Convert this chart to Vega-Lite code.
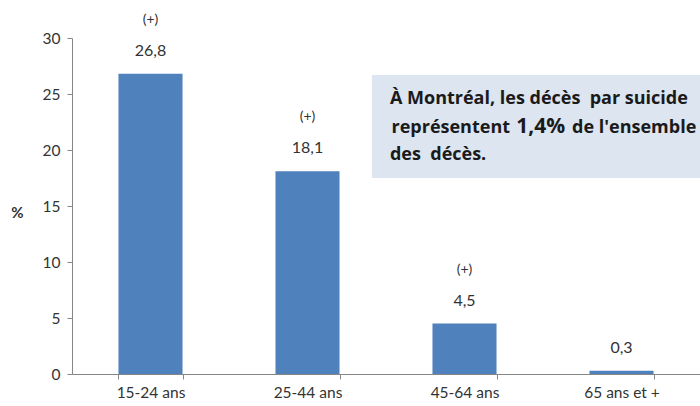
{
  "$schema": "https://vega.github.io/schema/vega-lite/v6.json",
  "autosize": {"type": "none"},
  "padding": {"left": 72, "top": 38, "right": 0, "bottom": 32},
  "width": 628,
  "height": 336,
  "config": {
    "view": {"stroke": null},
    "font": "Lato",
    "locale": {"number": {"decimal": ",", "thousands": " ", "grouping": [3], "currency": ["", " $"]}}
  },
  "layer": [
    {
      "data": {"values": [
        {"age": "15-24 ans", "pct": 26.8, "sig": "(+)"},
        {"age": "25-44 ans", "pct": 18.1, "sig": "(+)"},
        {"age": "45-64 ans", "pct": 4.5, "sig": "(+)"},
        {"age": "65 ans et +", "pct": 0.3, "sig": ""}
      ]},
      "encoding": {
        "x": {
          "field": "age", "type": "nominal", "sort": null,
          "scale": {"paddingInner": 0.592, "paddingOuter": 0.296},
          "axis": {
            "title": null, "labelAngle": 0, "labelFontSize": 15.5, "labelColor": "#333333",
            "labelPadding": 6, "tickBand": "extent", "tickSize": 5, "tickColor": "#868686",
            "domainColor": "#868686", "labelFont": "Lato"
          }
        },
        "y": {
          "field": "pct", "type": "quantitative",
          "scale": {"domain": [0, 30]},
          "axis": {
            "title": "%", "titleAngle": 0, "titleX": -55, "titleY": 174, "titleFontSize": 15,
            "titleFontWeight": "bold", "titleColor": "#333333", "titleAlign": "center", "titleBaseline": "middle",
            "values": [0, 5, 10, 15, 20, 25, 30], "grid": false,
            "labelFontSize": 15.5, "labelColor": "#333333", "labelPadding": 7,
            "tickSize": 5, "tickColor": "#868686", "domainColor": "#868686"
          }
        }
      },
      "layer": [
        {"mark": {"type": "bar", "color": "#4f81bd"}},
        {"mark": {"type": "text", "dy": -23, "fontSize": 16, "color": "#333333"},
         "encoding": {"text": {"field": "pct", "type": "quantitative", "format": ".1f"}}},
        {"mark": {"type": "text", "dy": -54, "fontSize": 14, "color": "#333333"},
         "encoding": {"text": {"field": "sig", "type": "nominal"}}}
      ]
    },
    {
      "data": {"values": [{"l1": "À Montréal, les décès\u00a0 par suicide", "a": "représentent", "b": "1,4%", "c": "de l'ensemble", "l3": "des\u00a0 décès."}]},
      "encoding": {
        "x": {"type": "quantitative", "scale": {"domain": [0, 4]}, "axis": null}
      },
      "layer": [
        {"mark": {"type": "rect", "color": "#dce5f0"},
         "encoding": {"x": {"datum": 1.91, "type": "quantitative", "scale": {"domain": [0, 4]}, "axis": null}, "x2": {"datum": 4.2}, "y": {"datum": 26.7, "type": "quantitative"}, "y2": {"datum": 17.5}}},
        {"mark": {"type": "text", "align": "left", "baseline": "middle", "font": "Open Sans", "fontSize": 18, "fontWeight": "bold", "color": "#1a1a1a"},
         "encoding": {"x": {"datum": 2.025, "type": "quantitative", "scale": {"domain": [0, 4]}, "axis": null}, "y": {"datum": 24.55, "type": "quantitative"}, "text": {"field": "l1"}}},
        {"mark": {"type": "text", "align": "right", "baseline": "middle", "font": "Open Sans", "fontSize": 18, "fontWeight": "bold", "color": "#1a1a1a"},
         "encoding": {"x": {"datum": 2.79, "type": "quantitative", "scale": {"domain": [0, 4]}, "axis": null}, "y": {"datum": 21.96, "type": "quantitative"}, "text": {"field": "a"}}},
        {"mark": {"type": "text", "align": "center", "baseline": "middle", "font": "Open Sans", "fontSize": 21, "fontWeight": "bold", "color": "#1a1a1a"},
         "encoding": {"x": {"datum": 2.985, "type": "quantitative", "scale": {"domain": [0, 4]}, "axis": null}, "y": {"datum": 22.05, "type": "quantitative"}, "text": {"field": "b"}}},
        {"mark": {"type": "text", "align": "left", "baseline": "middle", "font": "Open Sans", "fontSize": 18, "fontWeight": "bold", "color": "#1a1a1a"},
         "encoding": {"x": {"datum": 3.185, "type": "quantitative", "scale": {"domain": [0, 4]}, "axis": null}, "y": {"datum": 21.96, "type": "quantitative"}, "text": {"field": "c"}}},
        {"mark": {"type": "text", "align": "left", "baseline": "middle", "font": "Open Sans", "fontSize": 18, "fontWeight": "bold", "color": "#1a1a1a"},
         "encoding": {"x": {"datum": 2.025, "type": "quantitative", "scale": {"domain": [0, 4]}, "axis": null}, "y": {"datum": 19.55, "type": "quantitative"}, "text": {"field": "l3"}}}
      ]
    }
  ],
  "resolve": {"scale": {"x": "independent"}}
}
